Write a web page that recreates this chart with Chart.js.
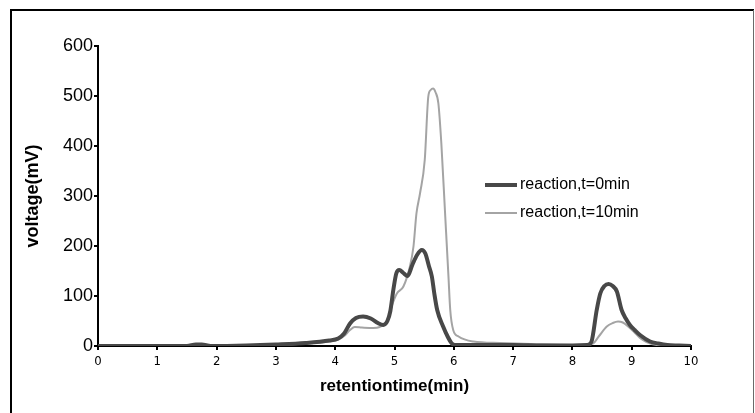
<!DOCTYPE html>
<html>
<head>
<meta charset="utf-8">
<script src="https://cdn.jsdelivr.net/npm/chart.js@4/dist/chart.umd.min.js"></script>
<style>
  html, body { margin: 0; padding: 0; background: #fff; }
  #wrap { width: 755px; height: 413px; position: relative; }
</style>
</head>
<body>
<div id="wrap"><canvas id="c" width="755" height="413"></canvas></div>
<script>
// ---- data ----
const seriesNames = ["reaction,t=0min", "reaction,t=10min"];

const time0 = [0, 1.5, 1.65, 1.75, 1.9, 2.5, 3.0, 3.5, 3.9, 4.05, 4.15, 4.25, 4.35, 4.47, 4.6, 4.72, 4.81, 4.88, 4.93, 4.98, 5.03, 5.08, 5.15, 5.22, 5.3, 5.38, 5.46, 5.52, 5.58, 5.63, 5.67, 5.72, 5.82, 5.9, 5.96, 6.02, 6.5, 7.0, 7.5, 8.0, 8.25, 8.32, 8.41, 8.47, 8.54, 8.61, 8.68, 8.75, 8.83, 8.9, 8.97, 9.05, 9.14, 9.31, 9.45, 9.6, 9.8, 10];
const volt0 = [0, 0, 3, 3, 0, 1, 3, 6, 11, 15, 25, 45, 56, 59, 55, 46, 42, 50, 70, 112, 145, 152, 146, 140, 162, 182, 192, 185, 160, 139, 106, 72, 39, 18, 6, 2, 2, 2, 1, 1, 2, 8, 72, 105, 120, 124, 120, 109, 72, 55, 42, 32, 22, 9, 5, 2, 1, 0];

const time1 = [0, 1.5, 1.65, 1.75, 1.9, 2.5, 3.0, 3.5, 3.9, 4.05, 4.15, 4.25, 4.33, 4.45, 4.64, 4.75, 4.87, 4.95, 5.04, 5.15, 5.26, 5.32, 5.37, 5.43, 5.51, 5.57, 5.61, 5.65, 5.69, 5.74, 5.79, 5.85, 5.91, 5.94, 5.99, 6.08, 6.33, 6.78, 7.3, 8.0, 8.24, 8.35, 8.45, 8.58, 8.68, 8.77, 8.85, 8.94, 9.04, 9.14, 9.25, 9.42, 9.7, 10];
const volt1 = [0, 0, 3, 3, 0, 1, 2, 5, 9, 13, 20, 32, 38, 37, 36, 38, 49, 79, 105, 119, 159, 199, 265, 305, 372, 499, 512, 515, 508, 485, 405, 272, 139, 72, 32, 19, 9, 6, 4, 2, 2, 5, 20, 39, 46, 49, 47, 39, 28, 16, 8, 2, 1, 0];

const xTitle = "retentiontime(min)";
const yTitle = "voltage(mV)";

// ---- helpers ----
function toPoints(xs, ys) { return xs.map((x, i) => ({ x: x, y: ys[i] })); }

const NARROW = '"Liberation Sans Narrow", "DejaVu Sans Condensed", "Arial Narrow", sans-serif';
const ARIAL = '"Liberation Sans", Arial, sans-serif';

const frame = {
  id: 'frame',
  beforeDraw(chart) {
    const ctx = chart.ctx;
    ctx.save();
    ctx.fillStyle = '#ffffff';
    ctx.fillRect(0, 0, chart.width, chart.height);
    ctx.strokeStyle = '#000';
    ctx.lineWidth = 2;
    ctx.beginPath();
    ctx.moveTo(11, 420); ctx.lineTo(11, 10); ctx.lineTo(754, 10);
    ctx.stroke();
    ctx.strokeStyle = '#6a6a6a';
    ctx.lineWidth = 1;
    ctx.beginPath();
    ctx.moveTo(753.5, 10); ctx.lineTo(753.5, 420);
    ctx.stroke();
    ctx.restore();
  }
};

const customLegend = {
  id: 'customLegend',
  afterDraw(chart) {
    const ctx = chart.ctx;
    ctx.save();
    chart.data.datasets.forEach((ds, i) => {
      const y = 185 + i * 28;
      ctx.strokeStyle = ds.borderColor;
      ctx.lineWidth = ds.borderWidth;
      ctx.beginPath();
      ctx.moveTo(485, y); ctx.lineTo(517, y);
      ctx.stroke();
      ctx.fillStyle = '#000';
      ctx.font = '16px ' + ARIAL;
      ctx.textBaseline = 'middle';
      ctx.textAlign = 'left';
      ctx.fillText(ds.label, 520, y);
    });
    ctx.restore();
  }
};

new Chart(document.getElementById('c'), {
  type: 'line',
  data: {
    datasets: [
      {
        label: seriesNames[0],
        data: toPoints(time0, volt0),
        borderColor: '#484848',
        borderWidth: 4,
        pointRadius: 0,
        cubicInterpolationMode: 'monotone',
        fill: false
      },
      {
        label: seriesNames[1],
        data: toPoints(time1, volt1),
        borderColor: '#a4a4a4',
        borderWidth: 2,
        pointRadius: 0,
        cubicInterpolationMode: 'monotone',
        fill: false
      }
    ]
  },
  options: {
    responsive: false,
    animation: false,
    devicePixelRatio: 1,
    layout: { padding: { left: 22, top: 46, right: 64, bottom: 16 } },
    plugins: {
      legend: { display: false },
      tooltip: { enabled: false }
    },
    scales: {
      x: {
        type: 'linear',
        min: 0, max: 10,
        afterFit(scale) { scale.height = 51; },
        border: { display: true, color: '#000', width: 2 },
        grid: { drawOnChartArea: false, drawTicks: true, tickLength: 4, color: '#000', lineWidth: 2 },
        ticks: { stepSize: 1, color: '#000', padding: 4, maxRotation: 0, font: { family: NARROW, size: 13 } },
        title: { display: true, text: xTitle, color: '#000', padding: { top: 0, bottom: 0 }, font: { family: ARIAL, size: 17, weight: 'bold' } }
      },
      y: {
        min: 0, max: 600,
        afterFit(scale) { scale.width = 76; },
        border: { display: true, color: '#000', width: 2 },
        grid: { drawOnChartArea: false, drawTicks: true, tickLength: 4, color: '#000', lineWidth: 2 },
        ticks: { stepSize: 100, color: '#000', padding: 1, font: { family: ARIAL, size: 18 } },
        title: { display: true, text: yTitle, color: '#000', padding: { top: 0, bottom: 0 }, font: { family: ARIAL, size: 18, weight: 'bold' } }
      }
    }
  },
  plugins: [frame, customLegend]
});
</script>
</body>
</html>
